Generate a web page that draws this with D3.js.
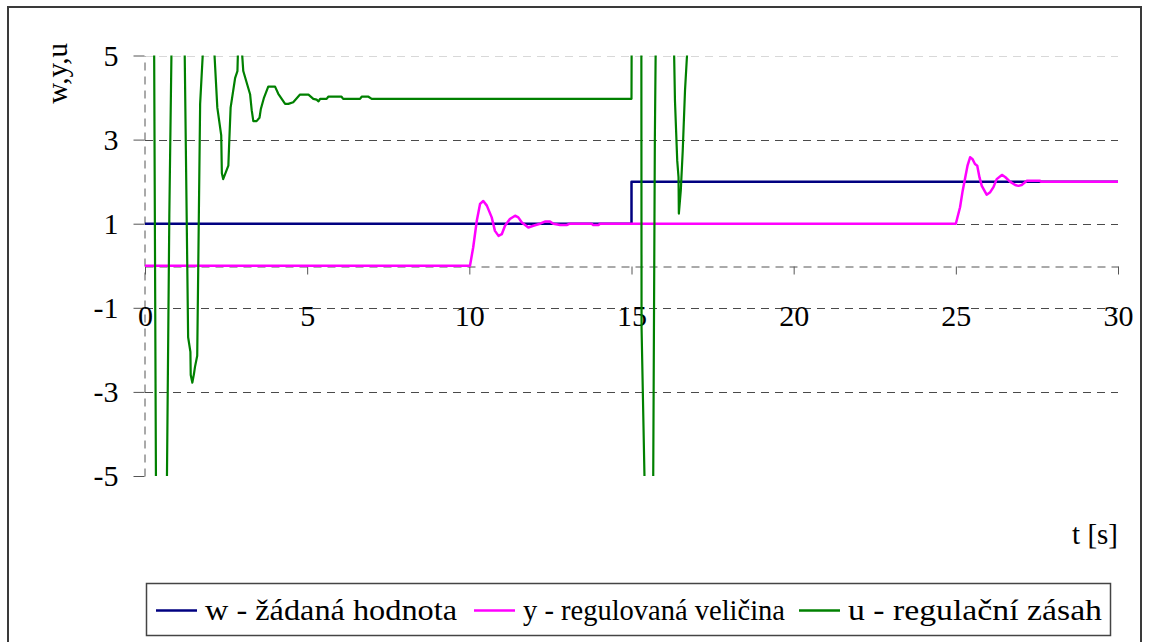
<!DOCTYPE html>
<html>
<head>
<meta charset="utf-8">
<script src="https://cdn.jsdelivr.net/npm/d3@7"></script>
<style>
  body { margin: 0; background: #fff; }
</style>
</head>
<body>
<svg id="chart" width="1153" height="642"></svg>
<script>
const serif = "Liberation Serif";

// w - setpoint
const tW = [0, 15, 15, 30];
const wVal = [1, 1, 2, 2];

// y - controlled output
const tY = [0, 10.02, 10.12, 10.23, 10.33, 10.43, 10.54, 10.69, 10.79, 10.9, 11.0, 11.1, 11.25, 11.41,
  11.51, 11.62, 11.82, 11.97, 12.18, 12.33, 12.49, 12.59, 12.8, 13.0, 13.1, 13.77, 13.82, 13.98, 14.03,
  25.0, 25.13, 25.21, 25.29, 25.36, 25.44, 25.51, 25.59, 25.66, 25.73, 25.8, 25.95, 26.06, 26.16, 26.26,
  26.42, 26.52, 26.67, 26.83, 26.93, 27.03, 27.19, 27.6, 27.62, 30];
const yVal = [0, 0, 0.44, 1.07, 1.47, 1.54, 1.43, 1.15, 0.83, 0.71, 0.75, 0.95, 1.11, 1.19,
  1.15, 1.03, 0.91, 0.95, 1.0, 1.05, 1.05, 1.0, 0.97, 0.97, 1.0, 1.0, 0.97, 0.97, 1.0,
  1.0, 1.39, 1.78, 2.1, 2.38, 2.58, 2.54, 2.42, 2.38, 2.1, 1.9, 1.69, 1.75, 1.87, 2.06,
  2.16, 2.11, 2.0, 1.92, 1.9, 1.92, 2.02, 2.02, 2.0, 2.0];

// u - control action (large swings run off the axis range and get clipped)
const tU = [0, 0.27, 0.28, 0.34, 0.35, 0.66, 0.67, 0.75, 0.82, 0.83,
  1.21, 1.22, 1.33, 1.4, 1.41, 1.46, 1.51, 1.54, 1.61, 1.65, 1.7, 1.8, 1.81,
  2.12, 2.13, 2.23, 2.35, 2.37, 2.41, 2.57, 2.6, 2.64, 2.78, 2.85, 2.87, 2.88,
  2.97, 2.98, 3.03, 3.24, 3.29, 3.34, 3.44, 3.53, 3.57, 3.67, 3.8, 4.01, 4.11, 4.32, 4.42, 4.57,
  4.78, 5.04, 5.19, 5.29, 5.35, 5.4, 5.6, 5.65, 6.06, 6.11, 6.63, 6.68, 6.89, 6.99,
  15.0, 15.02, 15.3, 15.31, 15.4, 15.42, 15.65, 15.67, 15.72, 15.75, 15.77,
  16.3, 16.31, 16.34, 16.41, 16.45, 16.46, 16.52, 16.58, 16.65, 16.72, 16.75, 17.5, 30];
const uVal = [10, 10, 5.5, -5.5, -10, -10, -5.6, 1.2, 5.3, 10,
  10, 5.3, -1.7, -2.05, -2.6, -2.78, -2.57, -2.41, -2.14, 0.52, 3.85, 5.3, 10,
  10, 5.2, 3.76, 3.1, 2.2, 2.06, 2.38, 3.0, 3.76, 4.47, 4.63, 5.2, 10,
  10, 5.2, 4.63, 4.08, 3.7, 3.44, 3.44, 3.52, 3.72, 4.0, 4.26, 4.26, 4.09, 3.85, 3.85, 3.89,
  4.07, 4.07, 3.97, 3.95, 3.91, 3.97, 3.97, 4.02, 4.02, 3.97, 3.97, 4.02, 4.02, 3.97,
  3.97, 10, 10, -1.46, -5.0, -10, -10, -5.0, 3.0, 5.5, 10,
  10, 5.2, 3.93, 2.5, 2.1, 1.24, 1.79, 2.74, 4.17, 5.12, 9, 8.5, 8];

const xTicks = [0, 5, 10, 15, 20, 25, 30];
const yTicks = [5, 3, 1, -1, -3, -5];
const seriesNames = ["w - žádaná hodnota", "y - regulovaná veličina", "u - regulační zásah"];
const seriesColors = ["#000080", "#ff00ff", "#008000"];

const svg = d3.select("svg#chart");
const x = d3.scaleLinear().domain([0, 30]).range([145, 1118]);
const y = d3.scaleLinear().domain([-5, 5]).range([476, 55.5]);

// outer frame
svg.append("rect")
  .attr("x", 8).attr("y", 7).attr("width", 1133).attr("height", 700)
  .attr("fill", "none").attr("stroke", "#3a3a3a").attr("stroke-width", 2);

// gridlines
svg.append("g")
  .selectAll("line")
  .data(yTicks.filter((d) => d !== -5))
  .enter()
  .append("line")
  .attr("x1", x(0)).attr("x2", x(30))
  .attr("y1", (d) => Math.round(y(d)) + 0.5).attr("y2", (d) => Math.round(y(d)) + 0.5)
  .attr("stroke", (d) => (d === 5 ? "#d8d8d8" : "#4a4a4a"))
  .attr("stroke-dasharray", "8,6");

// y axis
const yAxis = svg.append("g")
  .attr("transform", "translate(144.5,0)")
  .call(d3.axisLeft(y).tickValues(yTicks).tickFormat((d) => String(d))
    .tickSize(11).tickSizeOuter(0).tickPadding(15));
yAxis.select(".domain").attr("stroke", "#555").attr("stroke-dasharray", "8,6");
yAxis.selectAll(".tick line").attr("stroke", "#555");
yAxis.selectAll(".tick text")
  .style("font-family", serif).style("font-size", "30px").attr("fill", "#000");

// x axis crossing at 0
const xAxis = svg.append("g")
  .attr("transform", `translate(0,${Math.round(y(0)) + 0.5})`)
  .call(d3.axisBottom(x).tickValues(xTicks).tickFormat((d) => String(d))
    .tickSize(8).tickSizeOuter(0).tickPadding(30));
xAxis.select(".domain").attr("stroke", "#555").attr("stroke-dasharray", "8,6");
xAxis.selectAll(".tick line").attr("stroke", "#555");
xAxis.selectAll(".tick text")
  .style("font-family", serif).style("font-size", "30px").attr("fill", "#000");

// axis titles
svg.append("text")
  .attr("transform", "translate(67,43) rotate(-90)")
  .attr("text-anchor", "end")
  .style("font-family", serif).style("font-size", "29px")
  .text("w,y,u");
svg.append("text")
  .attr("x", 1118).attr("y", 544)
  .attr("text-anchor", "end")
  .style("font-family", serif).style("font-size", "29px")
  .text("t [s]");

// clip to plot area
svg.append("defs").append("clipPath").attr("id", "plot-clip")
  .append("rect")
  .attr("x", x(0) - 2).attr("y", y(5))
  .attr("width", x(30) - x(0) + 4).attr("height", y(-5) - y(5));

const line = d3.line().x((d) => x(d[0])).y((d) => y(d[1]));
const series = [
  d3.zip(tW, wVal),
  d3.zip(tY, yVal),
  d3.zip(tU, uVal),
];
const widths = [2.5, 2.5, 2.2];

const plot = svg.append("g").attr("clip-path", "url(#plot-clip)");
[0, 1, 2].forEach(function (i) {
  plot.append("path")
    .attr("d", line(series[i]))
    .attr("fill", "none")
    .attr("stroke", seriesColors[i])
    .attr("stroke-width", widths[i])
    .attr("stroke-linejoin", "round");
});

// legend
const legend = svg.append("g");
legend.append("rect")
  .attr("x", 146.5).attr("y", 583.5).attr("width", 964).attr("height", 52)
  .attr("fill", "#fff").attr("stroke", "#444").attr("stroke-width", 1.5);
const legendX = [156, 474, 799];
const legendTextW = [252, 262, 254];
legendX.forEach(function (lx, i) {
  legend.append("line")
    .attr("x1", lx).attr("x2", lx + 41)
    .attr("y1", 610.5).attr("y2", 610.5)
    .attr("stroke", seriesColors[i]).attr("stroke-width", 2.5);
  legend.append("text")
    .attr("x", lx + 49).attr("y", 620)
    .attr("textLength", legendTextW[i])
    .attr("lengthAdjust", "spacingAndGlyphs")
    .style("font-family", serif).style("font-size", "30px")
    .text(seriesNames[i]);
});
</script>
</body>
</html>
